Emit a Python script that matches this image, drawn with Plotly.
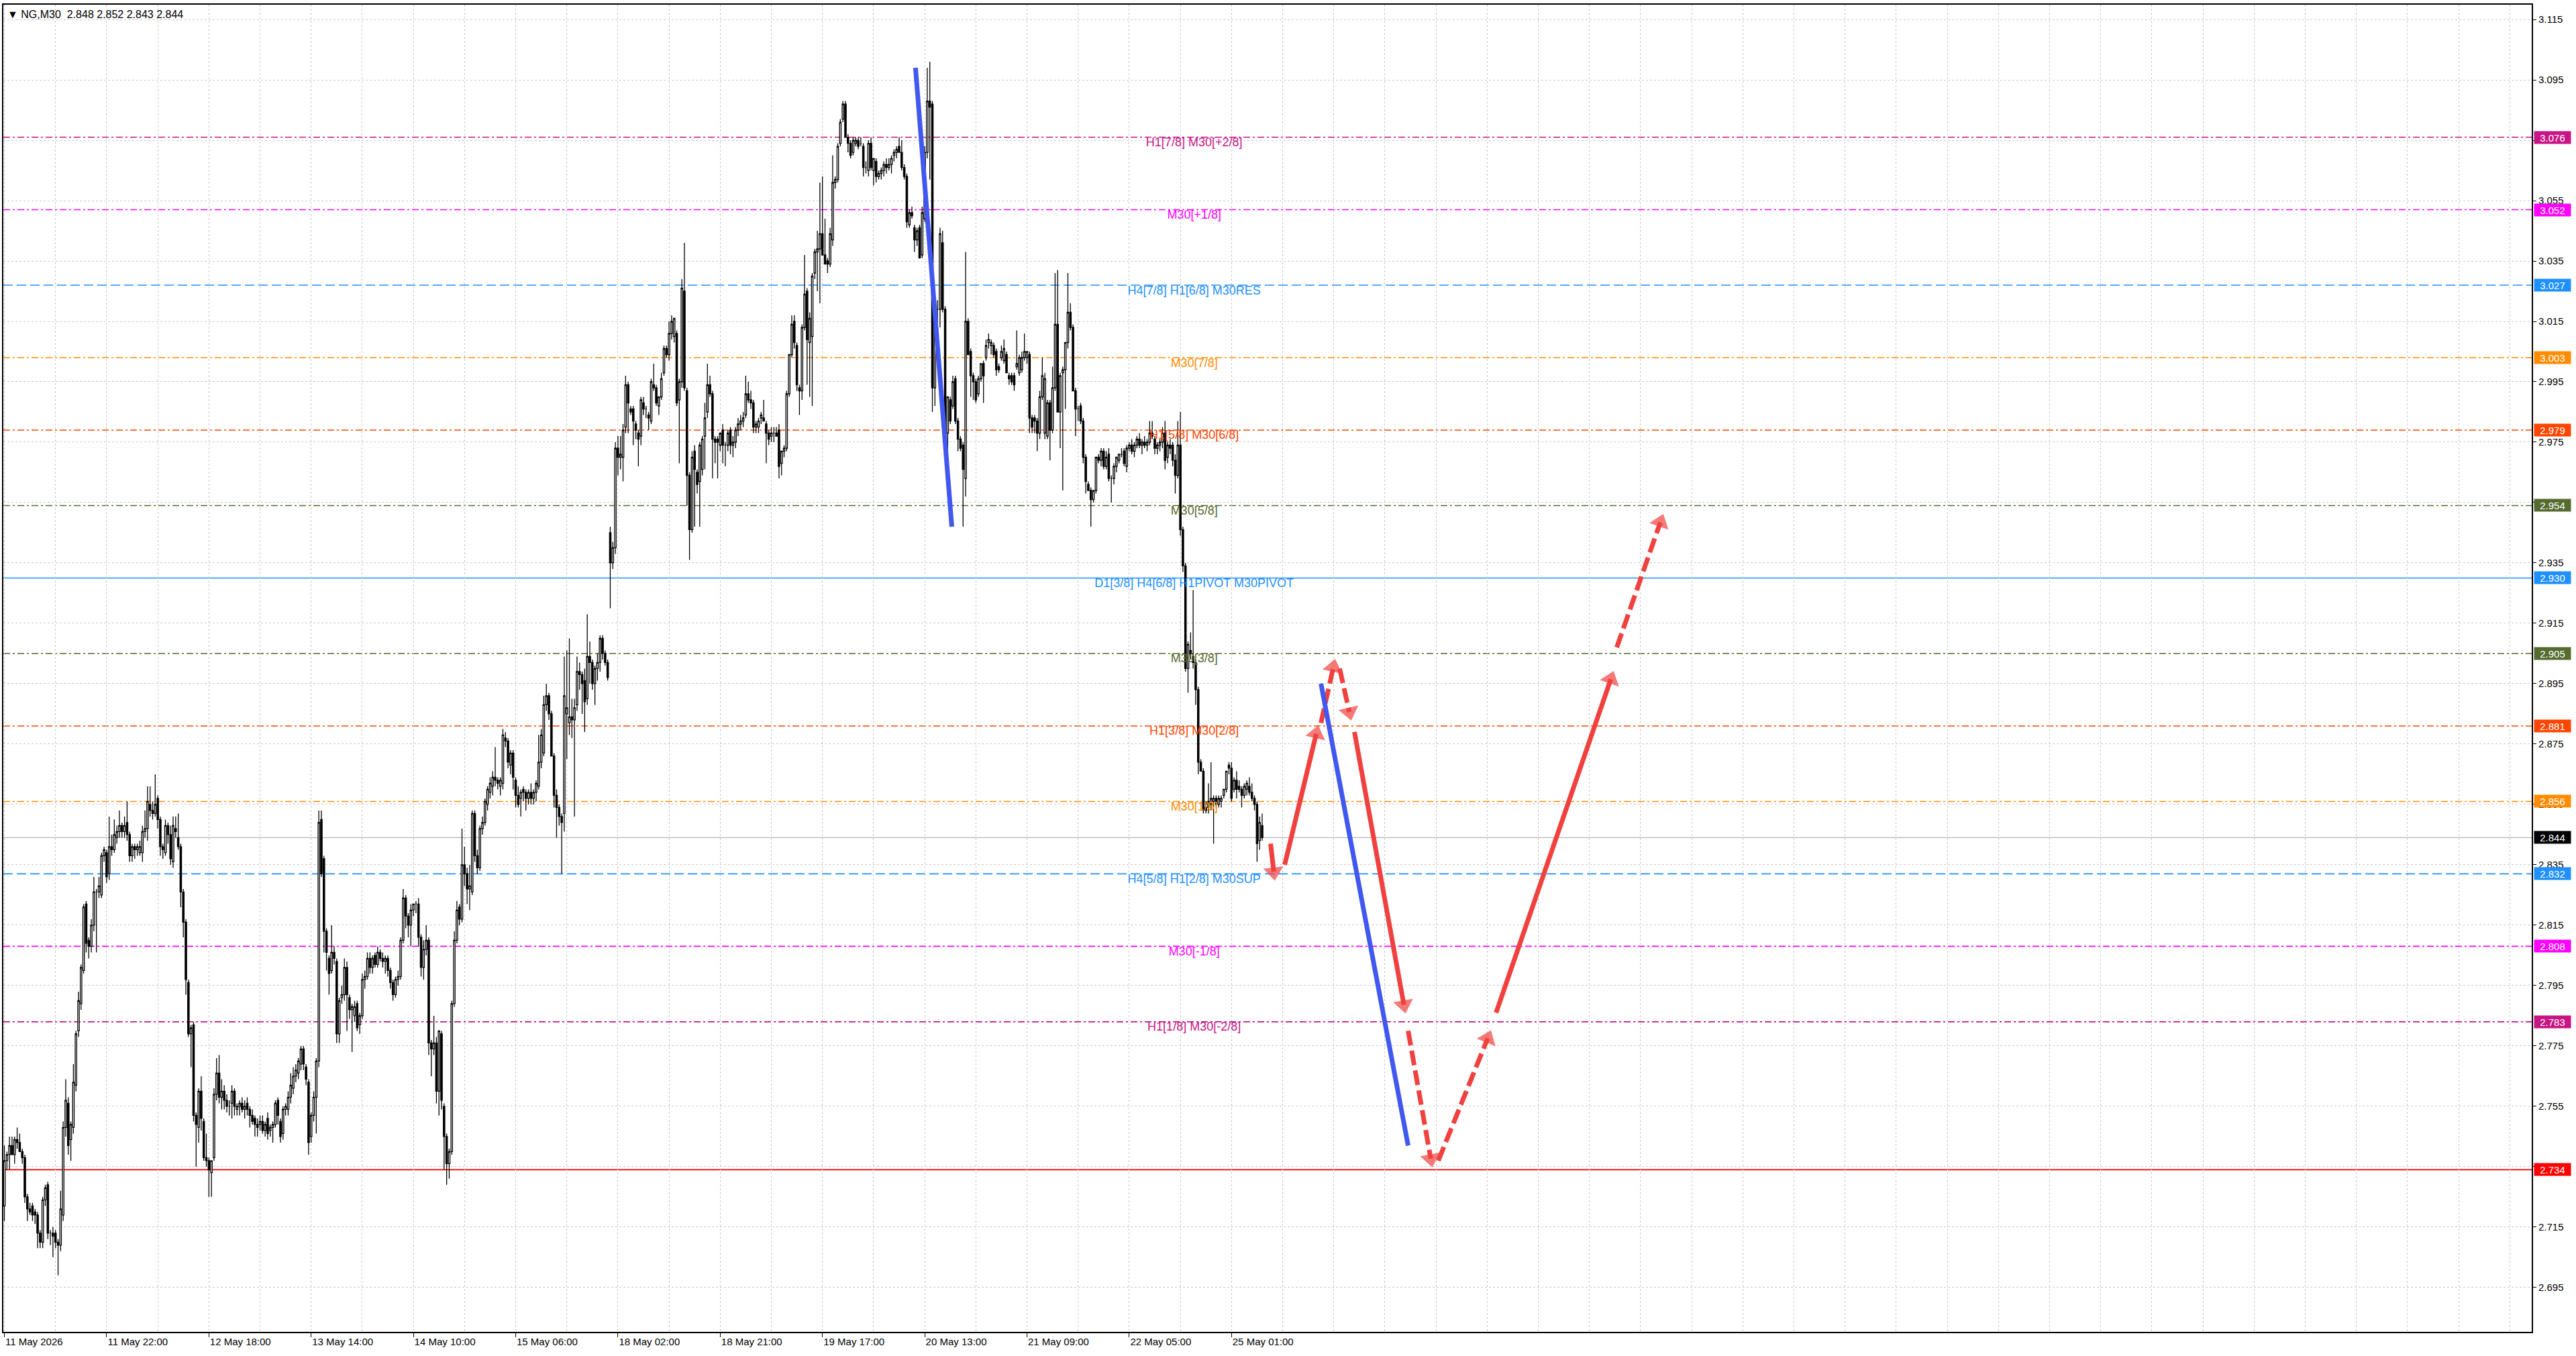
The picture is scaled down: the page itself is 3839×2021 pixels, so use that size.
import plotly.graph_objects as go

# NG,M30 candles, prices in thousandths (2845 -> 2.845)
opens = [
    2722, 2737, 2739, 2742, 2739, 2744, 2743, 2740, 2738, 2725,
    2721, 2722, 2720, 2719, 2713, 2710, 2724, 2729, 2713, 2713,
    2713, 2710, 2709, 2719, 2748, 2756, 2744, 2748, 2762, 2780,
    2789, 2800, 2822, 2810, 2808, 2815, 2826, 2826, 2825, 2838,
    2839, 2832, 2841, 2840, 2844, 2846, 2848, 2846, 2849, 2845,
    2838, 2841, 2840, 2839, 2839, 2846, 2847, 2855, 2853, 2852,
    2857, 2850, 2841, 2839, 2848, 2845, 2836, 2847, 2844, 2841,
    2826, 2816, 2796, 2779, 2782, 2752, 2748, 2760, 2750, 2738,
    2737, 2733, 2738, 2759, 2766, 2758, 2760, 2757, 2755, 2756,
    2760, 2754, 2755, 2756, 2754, 2756, 2754, 2752, 2751, 2749,
    2749, 2750, 2747, 2751, 2747, 2748, 2749, 2757, 2750, 2746,
    2754, 2754, 2758, 2761, 2765, 2766, 2769, 2774, 2768, 2763,
    2745, 2752, 2758, 2770, 2850, 2837, 2813, 2804, 2800, 2806,
    2803, 2779, 2791, 2792, 2801, 2791, 2787, 2785, 2789, 2782,
    2785, 2797, 2798, 2804, 2801, 2805, 2802, 2806, 2804, 2803,
    2804, 2800, 2796, 2792, 2797, 2798, 2810, 2824, 2818, 2815,
    2820, 2822, 2822, 2811, 2801, 2807, 2810, 2776, 2774, 2776,
    2760, 2779, 2755, 2745, 2736, 2740, 2789, 2810, 2821, 2817,
    2835, 2832, 2827, 2826, 2852, 2838, 2834, 2847, 2849, 2855,
    2859, 2861, 2864, 2863, 2861, 2862, 2877, 2876, 2868, 2872,
    2863, 2858, 2857, 2860, 2859, 2857, 2859, 2857, 2859, 2861,
    2869, 2872, 2888, 2891, 2885, 2871, 2858, 2854, 2851, 2852,
    2885, 2882, 2884, 2883, 2888, 2899, 2898, 2896, 2890, 2904,
    2902, 2895, 2900, 2902, 2910, 2905, 2902, 2945, 2935, 2940,
    2973, 2970, 2970, 2980, 2994, 2986, 2986, 2981, 2978, 2977,
    2988, 2986, 2984, 2982, 2994, 2993, 2987, 2990, 2998, 3006,
    3004, 3011, 3010, 3011, 2989, 2995, 3025, 2992, 2964, 2946,
    2972, 2965, 2962, 2966, 2977, 2985, 2994, 2991, 2976, 2976,
    2974, 2979, 2974, 2974, 2979, 2974, 2975, 2979, 2981, 2982,
    2984, 2991, 2989, 2988, 2980, 2980, 2983, 2983, 2981, 2978,
    2977, 2978, 2978, 2979, 2968, 2972, 2973, 2991, 3004, 3015,
    3007, 2993, 2992, 3013, 3025, 3008, 3010, 3031, 3038, 3039,
    3044, 3037, 3035, 3034, 3042, 3061, 3062, 3074, 3082, 3087,
    3076, 3074, 3071, 3074, 3075, 3074, 3073, 3066, 3065, 3074,
    3065, 3068, 3063, 3064, 3065, 3067, 3066, 3067, 3070, 3071,
    3073, 3071, 3066, 3063, 3047, 3051, 3046, 3042, 3046, 3037,
    3049, 3071, 3088, 3087, 2993, 3019, 3019, 3041, 3019, 2978,
    2989, 2987, 2996, 2982, 2976, 2974, 2963, 3015, 3005, 2997,
    2995, 2991, 2996, 3001, 3003, 3008, 3007, 3007, 3005, 3000,
    3003, 3002, 3004, 2997, 2997, 2997, 3000, 2998, 2999, 3003,
    3003, 3004, 2983, 2983, 2982, 2978, 2990, 2978, 2977, 2988,
    2979, 2993, 3014, 2985, 2998, 2999, 3008, 3018, 3013, 2992,
    2986, 2987, 2982, 2970, 2961, 2959, 2956, 2959, 2970, 2969,
    2972, 2967, 2971, 2963, 2963, 2967, 2969, 2971, 2972, 2967,
    2973, 2974, 2972, 2974, 2976, 2974, 2975, 2974, 2975, 2978,
    2976, 2973, 2974, 2975, 2978, 2970, 2974, 2974, 2969, 2964,
    2974, 2946, 2934, 2900, 2906, 2904, 2902, 2893, 2869, 2866,
    2854, 2854, 2855, 2856, 2857, 2855, 2856, 2858, 2860, 2868,
    2867, 2860, 2863, 2861, 2860, 2858, 2860, 2861, 2859, 2857,
    2855, 2843, 2848,
]
highs = [
    2742, 2740, 2745, 2745, 2745, 2748, 2746, 2741, 2739, 2726,
    2723, 2723, 2721, 2720, 2714, 2725, 2729, 2730, 2714, 2715,
    2714, 2711, 2727, 2750, 2764, 2758, 2750, 2769, 2780, 2793,
    2802, 2822, 2823, 2811, 2817, 2831, 2827, 2831, 2839, 2841,
    2840, 2851, 2845, 2850, 2848, 2853, 2849, 2851, 2856, 2846,
    2842, 2842, 2842, 2843, 2848, 2853, 2861, 2861, 2856, 2865,
    2858, 2851, 2842, 2850, 2849, 2848, 2851, 2851, 2852, 2842,
    2827, 2817, 2797, 2782, 2783, 2753, 2761, 2765, 2751, 2746,
    2738, 2737, 2761, 2771, 2772, 2764, 2762, 2759, 2757, 2762,
    2761, 2756, 2757, 2758, 2757, 2758, 2755, 2754, 2752, 2751,
    2752, 2752, 2750, 2753, 2749, 2750, 2757, 2758, 2751, 2755,
    2756, 2760, 2766, 2768, 2769, 2771, 2775, 2775, 2769, 2764,
    2753, 2760, 2771, 2853, 2853, 2838, 2814, 2805, 2815, 2808,
    2804, 2791, 2795, 2804, 2803, 2792, 2789, 2790, 2790, 2786,
    2799, 2800, 2806, 2806, 2805, 2806, 2808, 2807, 2806, 2805,
    2805, 2801, 2797, 2798, 2800, 2811, 2827, 2825, 2819, 2822,
    2822, 2823, 2824, 2812, 2810, 2815, 2811, 2777, 2785, 2778,
    2780, 2780, 2756, 2746, 2741, 2790, 2813, 2823, 2822, 2847,
    2841, 2834, 2835, 2853, 2853, 2840, 2848, 2851, 2857, 2861,
    2864, 2866, 2874, 2864, 2864, 2880, 2879, 2877, 2873, 2873,
    2864, 2861, 2860, 2861, 2860, 2860, 2862, 2860, 2863, 2878,
    2880, 2891, 2895, 2892, 2886, 2872, 2860, 2855, 2852, 2904,
    2906, 2910, 2890, 2890, 2904, 2902, 2899, 2900, 2918, 2909,
    2903, 2901, 2905, 2911, 2911, 2906, 2903, 2947, 2942, 2975,
    2977, 2977, 2981, 2997, 2995, 2987, 2987, 2982, 2979, 2990,
    2990, 2987, 2985, 2996, 3001, 2994, 2990, 2998, 3007, 3007,
    3015, 3017, 3016, 3012, 2996, 3029, 3041, 2993, 2965, 2972,
    2974, 2966, 2975, 2977, 2988, 3001, 2997, 2992, 2977, 2977,
    2978, 2981, 2975, 2979, 2980, 2977, 2980, 2983, 2984, 2985,
    2997, 2995, 2992, 2989, 2982, 2983, 2985, 2989, 2982, 2979,
    2980, 2980, 2980, 2981, 2972, 2974, 2992, 3004, 3017, 3017,
    3008, 2994, 3014, 3037, 3026, 3018, 3031, 3039, 3045, 3061,
    3063, 3049, 3036, 3046, 3070, 3063, 3074, 3082, 3088, 3088,
    3077, 3075, 3076, 3076, 3076, 3076, 3074, 3068, 3075, 3076,
    3069, 3069, 3065, 3066, 3068, 3069, 3069, 3070, 3072, 3073,
    3076, 3075, 3067, 3064, 3052, 3053, 3047, 3046, 3047, 3053,
    3073, 3099, 3101, 3088, 3022, 3022, 3046, 3045, 3020, 2990,
    2990, 2997, 2997, 2983, 2977, 2975, 3038, 3016, 3006, 2998,
    2996, 2997, 3001, 3002, 3009, 3011, 3009, 3008, 3006, 3001,
    3007, 3009, 3005, 2998, 2998, 2998, 3012, 3004, 3005, 3011,
    3005, 3005, 2984, 2984, 2983, 2992, 3003, 2998, 2989, 2989,
    3000, 3031, 3032, 2998, 3000, 3008, 3031, 3021, 3014, 2993,
    2987, 2988, 2983, 2971, 2962, 2960, 2959, 2970, 2971, 2973,
    2973, 2972, 2973, 2964, 2968, 2970, 2971, 2973, 2973, 2974,
    2975, 2976, 2975, 2977, 2978, 2976, 2977, 2976, 2982, 2982,
    2977, 2975, 2976, 2980, 2982, 2975, 2976, 2975, 2971, 2982,
    2985, 2947, 2935, 2909, 2912, 2926, 2903, 2894, 2870, 2867,
    2856, 2862, 2869, 2858, 2858, 2858, 2858, 2860, 2866, 2869,
    2869, 2864, 2866, 2863, 2861, 2862, 2863, 2864, 2862, 2858,
    2856, 2851, 2852,
]
lows = [
    2717, 2734, 2734, 2739, 2736, 2741, 2740, 2736, 2723, 2717,
    2719, 2717, 2716, 2708, 2708, 2708, 2722, 2711, 2709, 2705,
    2708, 2699, 2707, 2717, 2745, 2739, 2737, 2746, 2760, 2778,
    2787, 2799, 2806, 2804, 2806, 2813, 2806, 2824, 2824, 2836,
    2829, 2830, 2838, 2839, 2842, 2844, 2844, 2844, 2843, 2836,
    2836, 2837, 2838, 2838, 2836, 2844, 2843, 2851, 2850, 2851,
    2847, 2838, 2837, 2838, 2842, 2835, 2834, 2844, 2840, 2821,
    2811, 2792, 2778, 2768, 2750, 2735, 2743, 2747, 2737, 2735,
    2725, 2725, 2737, 2757, 2756, 2754, 2754, 2753, 2752, 2751,
    2752, 2752, 2752, 2753, 2751, 2752, 2748, 2749, 2745, 2745,
    2747, 2746, 2745, 2744, 2745, 2743, 2748, 2749, 2743, 2744,
    2752, 2752, 2756, 2759, 2763, 2764, 2767, 2767, 2762, 2739,
    2743, 2750, 2746, 2768, 2831, 2806, 2800, 2792, 2799, 2802,
    2776, 2776, 2789, 2790, 2780, 2784, 2773, 2783, 2780, 2779,
    2784, 2794, 2797, 2799, 2799, 2801, 2801, 2803, 2801, 2799,
    2798, 2794, 2790, 2791, 2795, 2797, 2809, 2814, 2811, 2808,
    2818, 2819, 2808, 2798, 2797, 2805, 2772, 2765, 2772, 2756,
    2752, 2754, 2734, 2729, 2731, 2739, 2788, 2809, 2815, 2816,
    2828, 2822, 2820, 2825, 2836, 2832, 2833, 2845, 2848, 2853,
    2857, 2858, 2861, 2860, 2858, 2860, 2874, 2867, 2865, 2860,
    2854, 2854, 2851, 2856, 2853, 2855, 2855, 2855, 2856, 2860,
    2867, 2871, 2886, 2883, 2871, 2854, 2844, 2848, 2832, 2846,
    2870, 2878, 2877, 2851, 2886, 2893, 2885, 2879, 2888, 2895,
    2893, 2888, 2896, 2899, 2903, 2901, 2896, 2920, 2933, 2938,
    2964, 2966, 2962, 2978, 2978, 2984, 2974, 2976, 2967, 2974,
    2984, 2983, 2979, 2981, 2992, 2987, 2984, 2989, 2997, 3003,
    3002, 3009, 3008, 2987, 2968, 2993, 2992, 2954, 2936, 2945,
    2947, 2958, 2947, 2964, 2966, 2983, 2990, 2963, 2968, 2963,
    2972, 2968, 2967, 2972, 2971, 2970, 2973, 2977, 2979, 2980,
    2983, 2988, 2986, 2978, 2978, 2978, 2981, 2982, 2968, 2974,
    2975, 2975, 2977, 2963, 2964, 2970, 2972, 2990, 3003, 3006,
    2992, 2984, 2989, 3012, 2994, 2990, 2987, 3029, 3025, 3021,
    3037, 3034, 3031, 3033, 3040, 3059, 3061, 3073, 3081, 3076,
    3071, 3069, 3070, 3073, 3072, 3073, 3063, 3064, 3063, 3065,
    3060, 3061, 3062, 3062, 3063, 3064, 3065, 3064, 3068, 3069,
    3071, 3065, 3062, 3046, 3046, 3049, 3038, 3040, 3036, 3036,
    3048, 3069, 3062, 2985, 2987, 3013, 3013, 3018, 2977, 2970,
    2981, 2986, 2981, 2972, 2972, 2947, 2957, 3004, 2990, 2989,
    2988, 2990, 2995, 2988, 3002, 3006, 3004, 3003, 2997, 2998,
    3002, 3001, 2998, 2994, 2994, 2992, 2999, 2997, 2998, 3002,
    3001, 2978, 2978, 2978, 2972, 2976, 2989, 2976, 2976, 2969,
    2978, 2992, 2990, 2973, 2959, 2986, 3006, 3012, 2992, 2977,
    2982, 2981, 2968, 2958, 2959, 2947, 2955, 2958, 2968, 2967,
    2966, 2966, 2962, 2955, 2961, 2965, 2968, 2970, 2967, 2965,
    2972, 2971, 2970, 2973, 2973, 2971, 2973, 2972, 2974, 2976,
    2971, 2971, 2972, 2973, 2966, 2968, 2971, 2967, 2958, 2963,
    2944, 2932, 2899, 2892, 2903, 2900, 2888, 2865, 2866, 2852,
    2852, 2852, 2853, 2842, 2854, 2854, 2854, 2857, 2859, 2865,
    2856, 2859, 2857, 2859, 2854, 2857, 2858, 2858, 2856, 2853,
    2836, 2840, 2843,
]
closes = [
    2737, 2739, 2742, 2739, 2744, 2743, 2740, 2738, 2725, 2721,
    2720, 2719, 2719, 2713, 2710, 2724, 2728, 2713, 2713, 2712,
    2710, 2709, 2721, 2748, 2757, 2742, 2749, 2763, 2779, 2790,
    2801, 2821, 2809, 2808, 2815, 2826, 2826, 2828, 2838, 2840,
    2831, 2841, 2840, 2845, 2846, 2848, 2846, 2848, 2845, 2838,
    2841, 2840, 2841, 2841, 2846, 2847, 2856, 2853, 2852, 2855,
    2850, 2841, 2840, 2848, 2845, 2837, 2848, 2846, 2841, 2826,
    2816, 2797, 2779, 2781, 2752, 2749, 2760, 2751, 2738, 2737,
    2734, 2737, 2759, 2766, 2758, 2760, 2757, 2755, 2755, 2760,
    2755, 2755, 2756, 2754, 2755, 2754, 2752, 2750, 2749, 2748,
    2750, 2747, 2749, 2746, 2748, 2749, 2756, 2752, 2745, 2754,
    2755, 2758, 2762, 2765, 2767, 2770, 2774, 2769, 2764, 2743,
    2752, 2758, 2770, 2849, 2832, 2813, 2806, 2799, 2806, 2804,
    2779, 2790, 2792, 2801, 2792, 2787, 2788, 2788, 2781, 2785,
    2797, 2798, 2804, 2801, 2804, 2802, 2806, 2804, 2803, 2804,
    2800, 2796, 2792, 2797, 2798, 2810, 2824, 2818, 2815, 2820,
    2822, 2822, 2811, 2801, 2807, 2810, 2776, 2774, 2776, 2760,
    2780, 2757, 2745, 2736, 2740, 2789, 2810, 2820, 2817, 2835,
    2832, 2827, 2828, 2852, 2838, 2834, 2847, 2849, 2856, 2860,
    2862, 2864, 2863, 2862, 2863, 2878, 2876, 2869, 2872, 2864,
    2858, 2855, 2859, 2859, 2857, 2859, 2857, 2859, 2862, 2869,
    2878, 2888, 2891, 2885, 2871, 2858, 2854, 2851, 2849, 2891,
    2887, 2884, 2883, 2887, 2899, 2898, 2895, 2889, 2904, 2902,
    2895, 2900, 2902, 2910, 2905, 2902, 2897, 2935, 2940, 2973,
    2970, 2971, 2979, 2994, 2988, 2985, 2982, 2979, 2976, 2989,
    2986, 2986, 2983, 2995, 2993, 2988, 2990, 2996, 3006, 3004,
    3011, 3015, 3016, 2988, 2995, 3026, 2993, 2964, 2946, 2970,
    2966, 2961, 2974, 2976, 2983, 2994, 2991, 2976, 2975, 2975,
    2978, 2974, 2974, 2978, 2974, 2975, 2979, 2981, 2982, 2983,
    2991, 2989, 2988, 2980, 2981, 2982, 2984, 2982, 2978, 2976,
    2978, 2978, 2977, 2967, 2972, 2973, 2991, 3004, 3014, 3008,
    2994, 2992, 3013, 3024, 3009, 3016, 3030, 3038, 3039, 3044,
    3037, 3034, 3034, 3044, 3061, 3062, 3073, 3081, 3087, 3076,
    3074, 3070, 3075, 3075, 3073, 3074, 3066, 3066, 3074, 3066,
    3069, 3063, 3064, 3065, 3067, 3066, 3067, 3069, 3071, 3072,
    3071, 3066, 3063, 3048, 3051, 3050, 3042, 3045, 3036, 3051,
    3071, 3088, 3086, 2993, 3019, 3019, 3044, 3019, 2979, 2990,
    2982, 2995, 2982, 2976, 2973, 2966, 3015, 3004, 2997, 2995,
    2989, 2996, 3001, 2997, 3007, 3009, 3008, 3004, 2999, 2999,
    3005, 3006, 2998, 2996, 2995, 2994, 3001, 3003, 3003, 3005,
    3005, 2983, 2980, 2982, 2978, 2990, 2997, 2996, 2988, 2979,
    2993, 3014, 2985, 2997, 2999, 3008, 3018, 3013, 2992, 2986,
    2986, 2982, 2970, 2962, 2959, 2956, 2959, 2970, 2969, 2972,
    2967, 2970, 2963, 2963, 2967, 2970, 2971, 2971, 2968, 2973,
    2974, 2972, 2974, 2976, 2974, 2975, 2974, 2975, 2978, 2977,
    2973, 2974, 2975, 2978, 2969, 2974, 2973, 2969, 2964, 2974,
    2946, 2934, 2900, 2908, 2905, 2902, 2893, 2869, 2866, 2853,
    2853, 2856, 2857, 2857, 2855, 2857, 2857, 2860, 2866, 2867,
    2857, 2863, 2860, 2860, 2858, 2861, 2862, 2859, 2857, 2855,
    2842, 2849, 2844,
]

time_labels = [
    "11 May 2026", "11 May 22:00", "12 May 18:00", "13 May 14:00",
    "14 May 10:00", "15 May 06:00", "18 May 02:00", "18 May 21:00",
    "19 May 17:00", "20 May 13:00", "21 May 09:00", "22 May 05:00",
    "25 May 01:00",
]
bars_per_label = 40

# Murrey math levels
level_prices = [3.076, 3.052, 3.027, 3.003, 2.979, 2.954, 2.930,
                2.905, 2.881, 2.856, 2.832, 2.808, 2.783, 2.734]
level_names = ["H1[7/8] M30[+2/8]", "M30[+1/8]", "H4[7/8] H1[6/8] M30RES",
               "M30[7/8]", "H1[5/8] M30[6/8]", "M30[5/8]",
               "D1[3/8] H4[6/8] H1PIVOT M30PIVOT", "M30[3/8]",
               "H1[3/8] M30[2/8]", "M30[1/8]", "H4[5/8] H1[2/8] M30SUP",
               "M30[-1/8]", "H1[1/8] M30[-2/8]", ""]
level_colors = ["#C71585", "#FF00FF", "#1E90FF", "#FF8C00", "#FF4500",
                "#556B2F", "#1E90FF", "#556B2F", "#FF4500", "#FF8C00",
                "#1E90FF", "#FF00FF", "#C71585", "#FF0000"]
level_styles = ["dashdot", "dashdot", "dash", "dashdot", "dashdot",
                "dashdot", "solid", "dashdot", "dashdot", "dashdot",
                "dash", "dashdot", "dashdot", "solid"]
label_bar = 465.4

last_price = 2.844

# projected path (bar index, price)
red_x0 = [495.3, 500.8, 515.0, 522.3, 528.1, 549.1, 560.9, 583.5, 630.7]
red_y0 = [2.842, 2.835, 2.882, 2.900, 2.879, 2.780, 2.737, 2.786, 2.907]
red_x1 = [496.9, 513.9, 520.5, 526.8, 548.0, 558.5, 581.4, 629.4, 648.8]
red_y1 = [2.830, 2.881, 2.903, 2.883, 2.786, 2.735, 2.780, 2.899, 2.951]
red_dashed = [False, False, True, True, False, True, True, False, True]

blue_x0 = [356.4, 515.0]
blue_y0 = [3.099, 2.895]
blue_x1 = [370.6, 549.1]
blue_y1 = [2.947, 2.742]

W, H = 3839, 2021
ML, MR, MT, MB = 5, 66, 7, 36
X_RANGE = [-0.4, 988.6]
Y_RANGE = [2.6803, 3.1199]
FONT = "Liberation Sans, Arial, DejaVu Sans"
GRID = "#C8C8C8"
RED = "#F0413F"
BLUE = "#4158F0"

dash_map = {"dashdot": "10px,4px,3px,4px", "dash": "14px,6px", "solid": "solid"}

px_per_bar = (W - ML - MR) / (X_RANGE[1] - X_RANGE[0])
px_per_price = (H - MT - MB) / (Y_RANGE[1] - Y_RANGE[0])

idx = list(range(len(closes)))

fig = go.Figure()

# level names sit under the candles
fig.add_trace(go.Scatter(
    x=[label_bar] * len(level_names), y=level_prices, text=level_names,
    mode="text", textposition="bottom center",
    textfont=dict(family=FONT, size=18, color=level_colors),
    hoverinfo="skip", showlegend=False,
))

fig.add_trace(go.Candlestick(
    x=idx,
    open=[v / 1000 for v in opens],
    high=[v / 1000 for v in highs],
    low=[v / 1000 for v in lows],
    close=[v / 1000 for v in closes],
    increasing=dict(line=dict(color="black", width=1.3), fillcolor="white"),
    decreasing=dict(line=dict(color="black", width=1.3), fillcolor="black"),
    whiskerwidth=0, hoverinfo="skip", showlegend=False,
))

for x0, y0, x1, y1, dashed in zip(red_x0, red_y0, red_x1, red_y1, red_dashed):
    dx = (x1 - x0) * px_per_bar
    dy = (y1 - y0) * px_per_price
    length = (dx * dx + dy * dy) ** 0.5
    hx = x1 - 12 * dx / length / px_per_bar
    hy = y1 - 12 * dy / length / px_per_price
    fig.add_trace(go.Scatter(
        x=[x0, hx], y=[y0, hy], mode="lines+markers",
        line=dict(color=RED, width=7, dash="22px,8px" if dashed else "solid"),
        marker=dict(symbol="triangle-up", size=[0, 26], color=RED,
                    angleref="previous", line=dict(width=0)),
        hoverinfo="skip", showlegend=False,
    ))

for x0, y0, x1, y1 in zip(blue_x0, blue_y0, blue_x1, blue_y1):
    fig.add_trace(go.Scatter(
        x=[x0, x1], y=[y0, y1], mode="lines",
        line=dict(color=BLUE, width=7),
        hoverinfo="skip", showlegend=False,
    ))

shapes = []
for price, color, style in zip(level_prices, level_colors, level_styles):
    shapes.append(dict(type="line", xref="paper", x0=0, x1=1, yref="y",
                       y0=price, y1=price, layer="below",
                       line=dict(color=color, width=1.6, dash=dash_map[style])))
shapes.append(dict(type="line", xref="paper", x0=0, x1=1, yref="y",
                   y0=last_price, y1=last_price, layer="below",
                   line=dict(color="#B4B4B4", width=1.4)))

annotations = []
for price, color in zip(level_prices, level_colors):
    annotations.append(dict(
        xref="paper", x=1, xanchor="left", xshift=3, yref="y", y=price,
        text=f"{price:.3f}", showarrow=False, bgcolor=color,
        font=dict(family=FONT, size=15, color="white"),
        width=54, height=18, borderpad=0,
    ))
annotations.append(dict(
    xref="paper", x=1, xanchor="left", xshift=3, yref="y", y=last_price,
    text=f"{last_price:.3f}", showarrow=False, bgcolor="black",
    font=dict(family=FONT, size=15, color="white"),
    width=54, height=18, borderpad=0,
))
last = len(closes) - 1
header = "\u25BC NG,M30  {:.3f} {:.3f} {:.3f} {:.3f}".format(
    opens[last] / 1000, highs[last] / 1000, lows[last] / 1000, closes[last] / 1000)
annotations.append(dict(
    xref="paper", x=0, xanchor="left", xshift=4, yref="paper", y=1,
    yanchor="top", yshift=-4, text=header, showarrow=False,
    font=dict(family=FONT, size=16, color="black"),
))

fig.update_layout(
    width=W, height=H,
    margin=dict(l=ML, r=MR, t=MT, b=MB, autoexpand=False),
    paper_bgcolor="white", plot_bgcolor="white",
    showlegend=False, hovermode=False, boxgap=0.15,
    shapes=shapes, annotations=annotations,
    xaxis=dict(
        range=X_RANGE, rangeslider=dict(visible=False),
        tickmode="array",
        tickvals=[i * bars_per_label for i in range(len(time_labels))],
        ticktext=time_labels, ticklabelposition="outside right",
        ticks="outside", ticklen=6, tickcolor="black",
        tickfont=dict(family=FONT, size=15, color="black"),
        showgrid=True, gridcolor=GRID, griddash="3px,3px", gridwidth=1,
        minor=dict(tickmode="linear", tick0=0, dtick=20, showgrid=True,
                   gridcolor=GRID, griddash="3px,3px", gridwidth=1, ticks=""),
        showline=True, linecolor="black", linewidth=2, mirror=True,
        zeroline=False,
    ),
    yaxis=dict(
        range=Y_RANGE, side="right", tick0=2.695, dtick=0.02,
        tickformat=".3f", ticks="outside", ticklen=5, tickcolor="black",
        tickfont=dict(family=FONT, size=15, color="black"),
        showgrid=True, gridcolor=GRID, griddash="3px,3px", gridwidth=1,
        showline=True, linecolor="black", linewidth=2, mirror=True,
        zeroline=False,
    ),
)

# the page body has a default 8px margin; drop it so the chart sits at 0,0
fig.write_html("out.html", config={"displayModeBar": False},
               post_script="document.body.style.margin='0px';")
